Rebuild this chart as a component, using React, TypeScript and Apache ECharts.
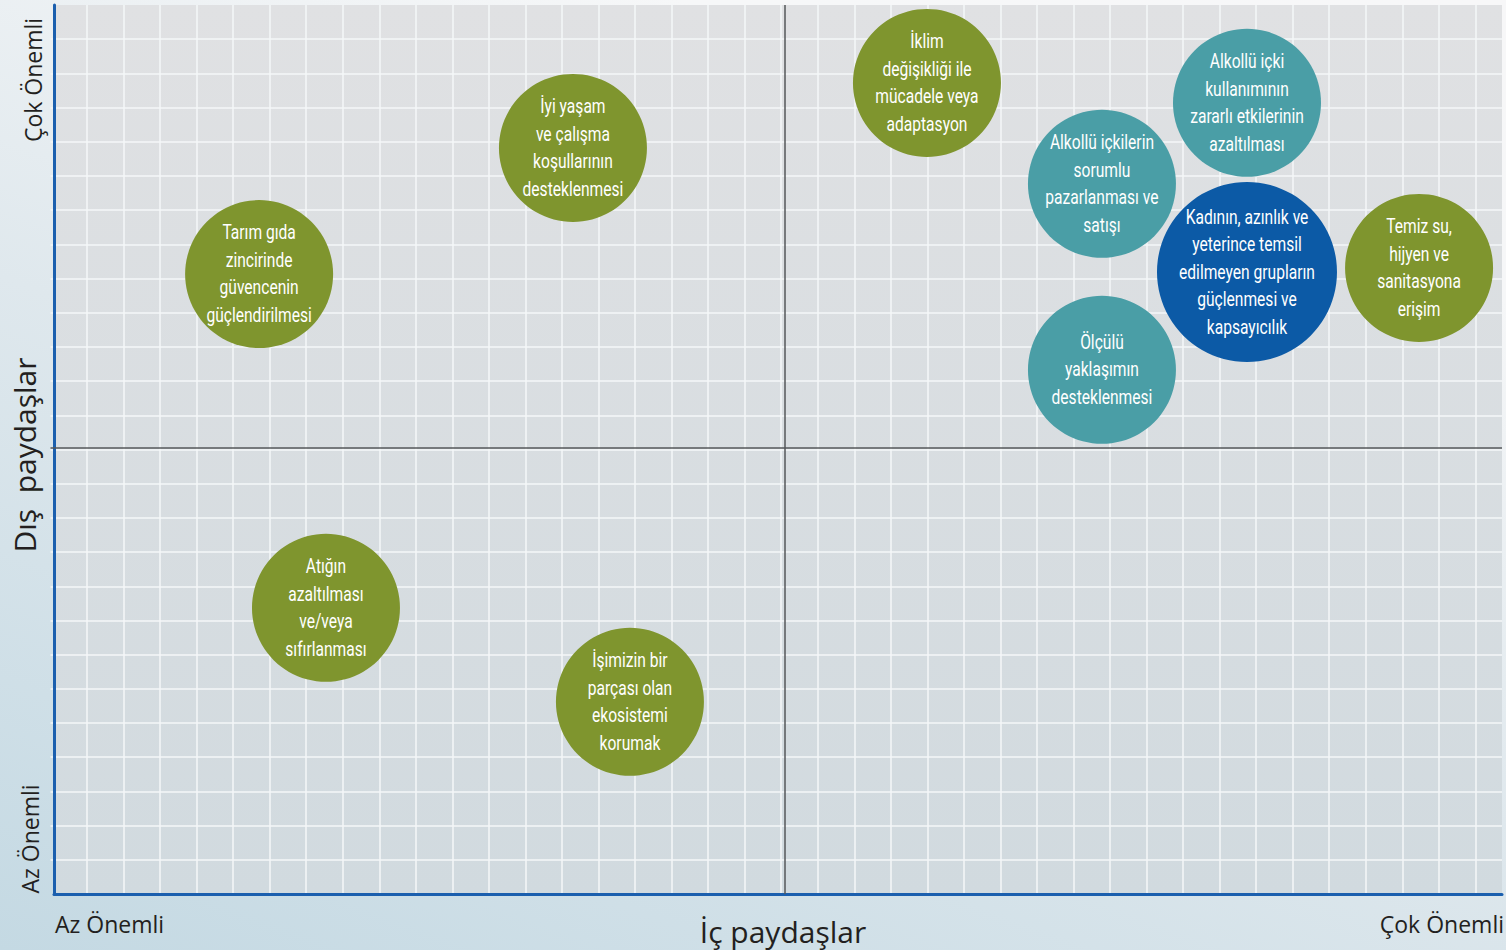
import React, { useEffect, useRef } from "react";
import * as echarts from "echarts";

// Internal stakeholders importance (x, grid cells) and external (y, grid cells)
const topics: string[] = [
  "İklim\ndeğişikliği ile\nmücadele veya\nadaptasyon",
  "Alkollü içki\nkullanımının\nzararlı etkilerinin\nazaltılması",
  "İyi yaşam\nve çalışma\nkoşullarının\ndesteklenmesi",
  "Alkollü içkilerin\nsorumlu\npazarlanması ve\nsatışı",
  "Kadının, azınlık ve\nyeterince temsil\nedilmeyen grupların\ngüçlenmesi ve\nkapsayıcılık",
  "Temiz su,\nhijyen ve\nsanitasyona\nerişim",
  "Tarım gıda\nzincirinde\ngüvencenin\ngüçlendirilmesi",
  "Ölçülü\nyaklaşımın\ndesteklenmesi",
  "Atığın\nazaltılması\nve/veya\nsıfırlanması",
  "İşimizin bir\nparçası olan\nekosistemi\nkorumak",
];
const internalScore: number[] = [23.99, 32.75, 14.3, 28.78, 32.75, 37.46, 5.71, 28.78, 7.54, 15.86];
const externalScore: number[] = [23.72, 23.14, 21.82, 20.77, 18.19, 18.31, 18.13, 15.33, 8.37, 5.62];
const groups: string[] = ["env", "alcohol", "env", "alcohol", "social", "env", "env", "alcohol", "env", "env"];

const xMax = 39.73;
const yMax = 26;
const xMid = 20.1;
const yMid = 13.05;

const axisLow = "Az Önemli";
const axisHigh = "Çok Önemli";
const xTitle = "İç paydaşlar";
const yTitle = "Dış  paydaşlar";

const groupColor: Record<string, string> = {
  env: "#7f952e",
  alcohol: "#4a9ea6",
  social: "#0c5aa6",
};

const labelFont = "'Roboto', 'Noto Sans', sans-serif";
const axisFont = "'Open Sans', 'Noto Sans', sans-serif";
const textColor = "#231f20";

export default function App() {
  const ref = useRef<HTMLDivElement>(null);
  useEffect(() => {
    if (!ref.current) return;
    const chart = echarts.init(ref.current, undefined, { renderer: "svg" });
    const data = topics.map((t, i) => ({
      name: t,
      value: [internalScore[i], externalScore[i], i],
    }));
    chart.setOption({
      animation: false,
      backgroundColor: "transparent",
      grid: [
        { left: 50.5, top: 5, width: 1451.5, height: 889, containLabel: false },
        {
          left: 54,
          top: 5,
          width: 1448,
          height: 889,
          show: true,
          borderWidth: 0,
          backgroundColor: new echarts.graphic.LinearGradient(0, 0, 0, 1, [
            { offset: 0, color: "#e0e1e3" },
            { offset: 1, color: "#d1dadf" },
          ]),
        },
      ],
      xAxis: [
        {
          type: "value",
          gridIndex: 0,
          min: 0,
          max: xMax,
          interval: 1,
          axisLine: { show: false },
          axisTick: { show: false },
          axisLabel: { show: false },
          splitLine: {
            show: true,
            showMinLine: false,
            showMaxLine: false,
            lineStyle: { color: "#f5f7f8", width: 1.5 },
          },
        },
        {
          type: "value",
          gridIndex: 1,
          min: 0,
          max: 1,
          axisLine: { show: true, lineStyle: { color: "#1b5fae", width: 3 } },
          axisTick: { show: false },
          axisLabel: { show: false },
          splitLine: { show: false },
        },
      ],
      yAxis: [
        {
          type: "value",
          gridIndex: 0,
          min: 0,
          max: yMax,
          interval: 1,
          axisLine: { show: false },
          axisTick: { show: false },
          axisLabel: { show: false },
          splitLine: {
            show: true,
            showMinLine: false,
            showMaxLine: false,
            lineStyle: { color: "#f5f7f8", width: 1.5 },
          },
        },
        {
          type: "value",
          gridIndex: 1,
          min: 0,
          max: 1,
          axisLine: { show: true, lineStyle: { color: "#1b5fae", width: 3 } },
          axisTick: { show: false },
          axisLabel: { show: false },
          splitLine: { show: false },
        },
      ],
      series: [
        {
          type: "scatter",
          xAxisIndex: 0,
          yAxisIndex: 0,
          data: [],
          markLine: {
            silent: true,
            symbol: "none",
            label: { show: false },
            lineStyle: { color: "#55575a", width: 1.5, type: "solid" },
            data: [{ xAxis: xMid }, { yAxis: yMid }],
          },
        },
        {
          type: "custom",
          xAxisIndex: 0,
          yAxisIndex: 0,
          z: 5,
          encode: { x: 0, y: 1 },
          data,
          renderItem: (params: any, api: any) => {
            const i = api.value(2);
            const pt = api.coord([api.value(0), api.value(1)]);
            const g = groups[i];
            const r = g === "social" ? 90 : 74;
            return {
              type: "group",
              children: [
                {
                  type: "circle",
                  shape: { cx: pt[0], cy: pt[1], r },
                  style: { fill: groupColor[g] },
                },
                {
                  type: "text",
                  x: pt[0],
                  y: pt[1],
                  scaleX: 0.8,
                  style: {
                    text: topics[i],
                    fill: "#ffffff",
                    font: `19.5px ${labelFont}`,
                    lineHeight: 27.5,
                    align: "center",
                    verticalAlign: "middle",
                    textAlign: "center",
                    textVerticalAlign: "middle",
                  },
                },
              ],
            };
          },
        },
      ],
      graphic: [
        {
          type: "text",
          x: 33,
          y: 80,
          rotation: Math.PI / 2,
          style: { text: axisHigh, font: `23px ${axisFont}`, fill: textColor, align: "center", verticalAlign: "middle", textAlign: "center", textVerticalAlign: "middle" },
        },
        {
          type: "text",
          x: 30,
          y: 839,
          rotation: Math.PI / 2,
          style: { text: axisLow, font: `23px ${axisFont}`, fill: textColor, align: "center", verticalAlign: "middle", textAlign: "center", textVerticalAlign: "middle" },
        },
        {
          type: "text",
          x: 24,
          y: 455,
          rotation: Math.PI / 2,
          style: { text: yTitle, font: `30px ${axisFont}`, fill: textColor, align: "center", verticalAlign: "middle", textAlign: "center", textVerticalAlign: "middle" },
        },
        {
          type: "text",
          x: 55,
          y: 924,
          style: { text: axisLow, font: `23px ${axisFont}`, fill: textColor, align: "left", verticalAlign: "middle", textAlign: "left", textVerticalAlign: "middle" },
        },
        {
          type: "text",
          x: 1504,
          y: 924,
          style: { text: axisHigh, font: `23px ${axisFont}`, fill: textColor, align: "right", verticalAlign: "middle", textAlign: "right", textVerticalAlign: "middle" },
        },
        {
          type: "text",
          x: 783,
          y: 931,
          style: { text: xTitle, font: `30px ${axisFont}`, fill: textColor, align: "center", verticalAlign: "middle", textAlign: "center", textVerticalAlign: "middle" },
        },
      ],
    });
    return () => chart.dispose();
  }, []);
  return (
    <div
      style={{
        position: "fixed",
        left: 0,
        top: 0,
        width: 1506,
        height: 950,
        overflow: "hidden",
        background: "linear-gradient(20deg, #c4d9e3 0%, #dfe8ed 45%, #f6f7f8 80%, #f7f7f8 100%)",
      }}
    >
      <div ref={ref} style={{ width: 1506, height: 950 }} />
    </div>
  );
}
